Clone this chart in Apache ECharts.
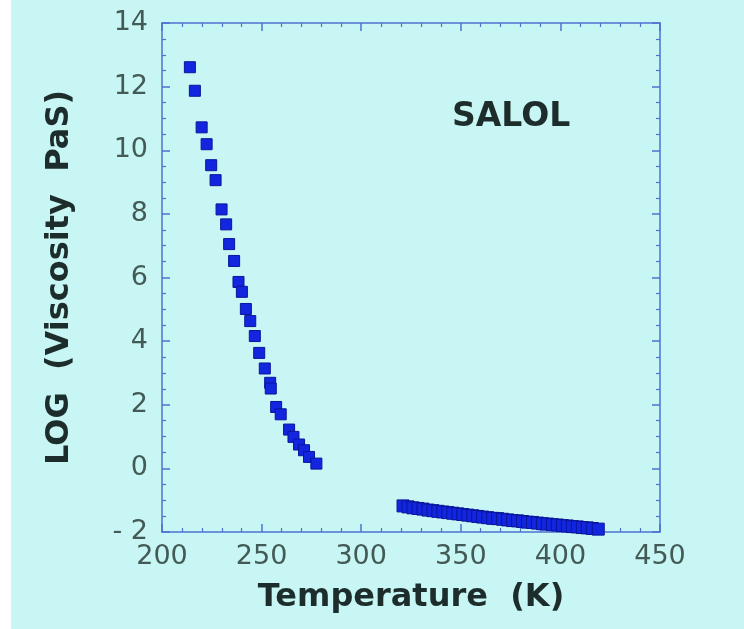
<!DOCTYPE html>
<html>
<head>
<meta charset="utf-8">
<script src="https://cdn.jsdelivr.net/npm/echarts@6/dist/echarts.min.js"></script>
<style>
  html, body { margin: 0; padding: 0; background: #ffffff; }
  #chart { width: 744px; height: 629px; }
</style>
</head>
<body>
<div id="chart"></div>
<script>
// Supercooled-liquid branch (K, log10 viscosity in Pa·s)
const tempLow = [214.0, 216.5, 219.9, 222.4, 224.7, 226.9, 229.9, 232.2, 233.7, 236.2,
                 238.4, 240.1, 242.1, 244.3, 246.6, 248.8, 251.6, 254.3, 254.6, 257.3,
                 259.6, 263.8, 266.0, 268.8, 271.3, 273.8, 277.5];
const logViscLow = [12.61, 11.87, 10.72, 10.19, 9.53, 9.06, 8.14, 7.67, 7.05, 6.52,
                    5.86, 5.55, 5.01, 4.63, 4.16, 3.63, 3.14, 2.69, 2.51, 1.93,
                    1.70, 1.22, 0.99, 0.75, 0.57, 0.36, 0.15];

// High-temperature branch
const tempHigh = [321, 323.5, 326, 328.5, 331, 333.5, 336, 338.5, 341, 343.5,
                  346, 348.5, 351, 353.5, 356, 358.5, 361, 363.5, 366, 368.5,
                  371, 373.5, 376, 378.5, 381, 383.5, 386, 388.5, 391, 393.5,
                  396, 398.5, 401, 403.5, 406, 408.5, 411, 413.5, 416, 419];
const logViscHigh = [-1.18, -1.21, -1.24, -1.26, -1.28, -1.31, -1.33, -1.35, -1.37, -1.39,
                     -1.41, -1.43, -1.45, -1.47, -1.49, -1.51, -1.53, -1.55, -1.57, -1.58,
                     -1.60, -1.62, -1.64, -1.65, -1.67, -1.69, -1.70, -1.72, -1.74, -1.75,
                     -1.77, -1.78, -1.80, -1.81, -1.83, -1.84, -1.86, -1.87, -1.89, -1.91];

const xTicks = { min: 200, max: 450, step: 50 };
const yTicks = { min: -2, max: 14, step: 2 };
const sampleName = 'SALOL';

const pair = (xs, ys) => xs.map((x, i) => [x, ys[i]]);

const axisBlue = '#4f72cf';
const labelColor = '#435a56';
const titleColor = '#1c2d2c';
const fontFam = '"DejaVu Sans", Verdana, sans-serif';

const frameAxis = {
  axisLine: { show: true, onZero: false, lineStyle: { color: axisBlue, width: 1.5 } },
  axisTick: { show: true, inside: true, length: 8, lineStyle: { color: axisBlue, width: 1.5 } },
  minorTick: { show: true, length: 4, lineStyle: { color: axisBlue, width: 1.2 } },
  splitLine: { show: false }
};

const markerStyle = { color: '#1226e0', borderColor: '#0a159a', borderWidth: 1, opacity: 1 };

const chart = echarts.init(document.getElementById('chart'), null, { renderer: 'canvas' });

chart.setOption({
  backgroundColor: '#c8f6f4',
  animation: false,
  grid: { left: 162, right: 84, top: 23, bottom: 97 },
  title: {
    text: sampleName,
    left: 447, top: 96,
    textStyle: { fontFamily: fontFam, fontSize: 33, fontWeight: 'bold', color: titleColor }
  },
  graphic: [
    { type: 'rect', left: 0, top: 0, shape: { width: 11, height: 629 }, style: { fill: '#ffffff' }, z: 100 }
  ],
  xAxis: [
    Object.assign({}, frameAxis, {
      type: 'value', position: 'bottom',
      min: xTicks.min, max: xTicks.max, interval: xTicks.step,
      minorTick: Object.assign({}, frameAxis.minorTick, { splitNumber: 5 }),
      axisLabel: { fontFamily: fontFam, fontSize: 27, color: labelColor, margin: 11 },
      name: 'Temperature  (K)',
      nameLocation: 'middle', nameGap: 50,
      nameTextStyle: { fontFamily: fontFam, fontSize: 32, fontWeight: 'bold', color: titleColor }
    }),
    Object.assign({}, frameAxis, {
      type: 'value', position: 'top',
      min: xTicks.min, max: xTicks.max, interval: xTicks.step,
      minorTick: Object.assign({}, frameAxis.minorTick, { splitNumber: 5 }),
      axisLabel: { show: false }
    })
  ],
  yAxis: [
    Object.assign({}, frameAxis, {
      type: 'value', position: 'left',
      min: yTicks.min, max: yTicks.max, interval: yTicks.step,
      minorTick: Object.assign({}, frameAxis.minorTick, { splitNumber: 4 }),
      axisLabel: {
        fontFamily: fontFam, fontSize: 27, color: labelColor, margin: 14,
        formatter: v => (v < 0 ? '- ' + Math.abs(v) : String(v))
      },
      name: 'LOG  (Viscosity  PaS)',
      nameLocation: 'middle', nameGap: 86, nameRotate: 90,
      nameTextStyle: { fontFamily: fontFam, fontSize: 32, fontWeight: 'bold', color: titleColor }
    }),
    Object.assign({}, frameAxis, {
      type: 'value', position: 'right',
      min: yTicks.min, max: yTicks.max, interval: yTicks.step,
      minorTick: Object.assign({}, frameAxis.minorTick, { splitNumber: 4 }),
      axisLabel: { show: false }
    })
  ],
  series: [
    {
      type: 'scatter', xAxisIndex: 0, yAxisIndex: 0,
      symbol: 'rect', symbolSize: 11,
      itemStyle: markerStyle,
      data: pair(tempLow, logViscLow)
    },
    {
      type: 'scatter', xAxisIndex: 0, yAxisIndex: 0,
      symbol: 'rect', symbolSize: 12,
      itemStyle: markerStyle,
      data: pair(tempHigh, logViscHigh)
    }
  ]
});
</script>
</body>
</html>
